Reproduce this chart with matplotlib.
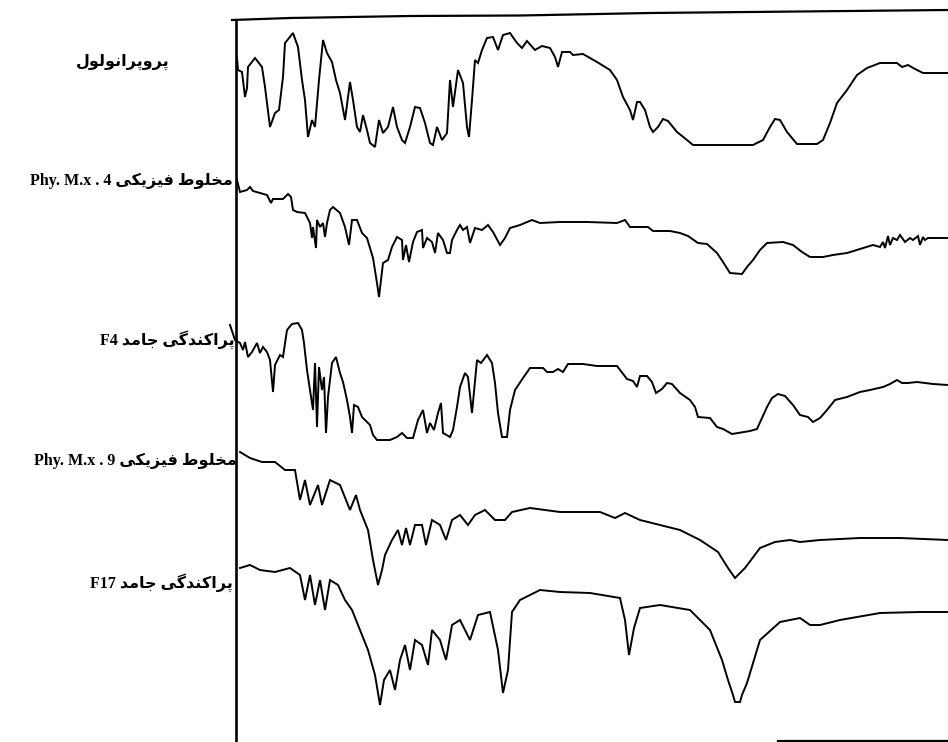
import matplotlib.pyplot as plt
import numpy as np

# Stacked IR spectra; x is position along the recorder trace, y is pen depth
# (larger = lower on the chart).

propranolol_x = [237, 238, 242, 245, 247, 248, 255, 262, 265, 270, 275, 279, 283, 285,
                 293, 298, 302, 305, 308, 312, 315, 319, 323, 327, 332, 336, 340, 345,
                 350, 353, 357, 360, 363, 367, 370, 375, 379, 383, 388, 393, 397, 402,
                 405, 410, 415, 420, 425, 430, 433, 437, 442, 447, 450, 453, 458, 463,
                 467, 469, 472, 475, 478, 482, 487, 493, 498, 503, 510, 517, 522, 527,
                 535, 542, 550, 555, 558, 562, 570, 573, 583, 597, 610, 617, 623, 630,
                 633, 637, 640, 645, 650, 653, 658, 663, 668, 677, 687, 693, 753, 763,
                 770, 775, 780, 787, 797, 817, 823, 830, 837, 847, 857, 867, 880, 897,
                 902, 908, 915, 923, 948]
propranolol_y = [58, 70, 72, 97, 88, 67, 58, 67, 87, 127, 113, 110, 77, 43,
                 33, 47, 80, 100, 137, 120, 127, 80, 40, 53, 62, 80, 93, 120,
                 82, 100, 127, 132, 115, 130, 143, 147, 120, 133, 127, 107, 127, 140,
                 143, 127, 107, 108, 123, 143, 145, 127, 140, 133, 80, 107, 70, 83,
                 127, 137, 100, 60, 63, 50, 38, 37, 50, 35, 33, 43, 48, 41,
                 50, 46, 48, 57, 67, 52, 52, 55, 54, 62, 70, 80, 97, 110,
                 120, 102, 102, 110, 127, 132, 127, 119, 121, 132, 140, 145, 145, 140,
                 127, 119, 120, 132, 144, 144, 140, 123, 103, 90, 75, 68, 63, 63,
                 67, 65, 69, 73, 73]

phymx4_x = [237, 240, 247, 250, 253, 260, 267, 271, 273, 283, 288, 291, 293, 297,
            305, 310, 312, 313, 316, 317, 320, 323, 325, 327, 330, 333, 340, 345,
            349, 352, 357, 362, 367, 370, 373, 377, 379, 381, 383, 388, 392, 397,
            402, 403, 406, 409, 413, 417, 422, 423, 427, 432, 435, 438, 443, 447,
            450, 452, 457, 460, 463, 467, 470, 475, 482, 488, 493, 500, 505, 510,
            520, 532, 540, 560, 587, 617, 625, 630, 648, 653, 670, 680, 688, 698,
            707, 717, 723, 730, 742, 747, 753, 760, 767, 783, 793, 802, 810, 823,
            833, 847, 860, 873, 880, 883, 885, 888, 890, 893, 897, 900, 905, 910,
            913, 918, 920, 923, 925, 928, 933, 948]
phymx4_y = [180, 192, 190, 187, 191, 193, 195, 203, 199, 199, 194, 197, 210, 212,
            213, 223, 238, 227, 248, 220, 227, 223, 237, 223, 210, 207, 213, 227,
            245, 220, 220, 233, 238, 248, 258, 283, 297, 280, 263, 260, 247, 237,
            240, 260, 245, 262, 242, 232, 230, 248, 238, 242, 253, 233, 240, 253,
            253, 240, 230, 225, 230, 227, 243, 228, 230, 225, 232, 245, 238, 228,
            225, 220, 223, 222, 222, 223, 220, 227, 227, 231, 231, 233, 236, 243,
            244, 253, 262, 273, 274, 267, 260, 250, 243, 242, 245, 252, 257, 257,
            255, 253, 249, 245, 247, 242, 248, 236, 245, 238, 240, 235, 242, 238,
            240, 236, 245, 237, 240, 238, 238, 238]

f4_x = [230, 235, 240, 243, 245, 248, 252, 257, 260, 263, 267, 270, 273, 275,
        280, 283, 287, 292, 298, 302, 304, 307, 310, 313, 315, 317, 319, 322,
        324, 326, 328, 332, 336, 340, 343, 347, 350, 352, 354, 358, 362, 365,
        370, 373, 377, 390, 397, 402, 407, 413, 418, 423, 427, 430, 434, 438,
        441, 443, 450, 453, 457, 460, 465, 468, 472, 477, 481, 487, 492, 495,
        498, 502, 507, 510, 515, 523, 530, 543, 547, 553, 558, 563, 568, 583,
        597, 617, 627, 633, 637, 640, 647, 652, 656, 662, 667, 672, 680, 690,
        695, 698, 710, 717, 723, 732, 738, 750, 757, 762, 767, 772, 778, 785,
        793, 800, 808, 813, 820, 827, 835, 847, 860, 870, 883, 890, 897, 902,
        908, 917, 933, 948]
f4_y = [325, 340, 343, 350, 342, 357, 352, 343, 353, 347, 352, 360, 392, 365,
        355, 357, 330, 324, 323, 330, 343, 370, 390, 410, 363, 427, 367, 390,
        377, 433, 397, 363, 357, 373, 382, 400, 417, 433, 405, 407, 417, 420,
        425, 435, 440, 440, 437, 433, 438, 438, 420, 410, 433, 423, 430, 413,
        403, 433, 437, 430, 407, 387, 373, 377, 413, 360, 363, 355, 363, 383,
        413, 437, 437, 410, 390, 378, 368, 368, 372, 372, 369, 372, 364, 364,
        366, 366, 379, 381, 387, 376, 376, 382, 393, 389, 383, 384, 393, 400,
        407, 417, 418, 427, 429, 434, 433, 431, 429, 418, 407, 398, 394, 396,
        405, 415, 417, 422, 418, 410, 400, 397, 392, 390, 387, 384, 380, 383,
        383, 382, 384, 385]

phymx9_x = [240, 250, 262, 275, 285, 295, 300, 305, 310, 318, 322, 330, 340, 350,
            356, 360, 368, 373, 378, 382, 385, 392, 398, 402, 406, 410, 415, 422,
            426, 432, 440, 446, 452, 460, 468, 475, 485, 495, 505, 512, 530, 560,
            600, 615, 625, 640, 660, 680, 700, 718, 728, 735, 745, 760, 775, 790,
            800, 820, 860, 900, 948]
phymx9_y = [452, 458, 462, 462, 470, 470, 500, 480, 505, 485, 505, 480, 485, 510,
            495, 510, 530, 560, 585, 570, 555, 540, 530, 545, 528, 545, 525, 525,
            545, 520, 525, 540, 520, 515, 525, 515, 510, 520, 520, 512, 508, 512,
            512, 518, 513, 520, 525, 530, 540, 552, 568, 578, 568, 548, 542, 540,
            542, 540, 538, 538, 540]

f17_x = [240, 250, 260, 275, 290, 300, 305, 310, 315, 320, 325, 330, 338, 345,
         352, 360, 368, 375, 380, 384, 390, 395, 400, 405, 410, 415, 422, 428,
         432, 440, 446, 452, 460, 470, 478, 490, 498, 503, 508, 512, 520, 540,
         560, 590, 620, 625, 629, 634, 640, 660, 690, 710, 722, 728, 733, 735,
         740, 742, 747, 760, 780, 800, 810, 820, 840, 880, 920, 948]
f17_y = [568, 565, 570, 572, 568, 575, 600, 575, 605, 580, 610, 580, 585, 600,
         610, 630, 650, 675, 705, 680, 670, 690, 660, 645, 670, 640, 645, 665,
         630, 640, 660, 625, 620, 640, 615, 612, 650, 693, 670, 612, 600, 590,
         592, 593, 598, 620, 655, 628, 608, 605, 610, 630, 660, 680, 695, 702,
         702, 695, 683, 640, 622, 618, 625, 625, 620, 613, 612, 612]

# chart paper border drawn by the recorder
border_top_x = [232, 290, 410, 520, 650, 948]
border_top_y = [20, 18, 16, 15.5, 13, 10]

labels = [
    ("", "پروپرانولول"),
    ("Phy. M.x . 4", "مخلوط فیزیکی"),
    ("F4", "پراکندگی جامد"),
    ("Phy. M.x . 9", "مخلوط فیزیکی"),
    ("F17", "پراکندگی جامد"),
]
label_pos = [(170, 62), (233, 181), (235, 340), (237, 461), (233, 583)]

# contextual forms: isolated, final, initial, medial
FORMS = {
    "ا": "\uFE8D\uFE8E", "د": "\uFEA9\uFEAA", "ر": "\uFEAD\uFEAE",
    "ز": "\uFEAF\uFEB0", "و": "\uFEED\uFEEE",
    "ن": "\uFEE5\uFEE6\uFEE7\uFEE8", "ل": "\uFEDD\uFEDE\uFEDF\uFEE0",
    "م": "\uFEE1\uFEE2\uFEE3\uFEE4", "خ": "\uFEA5\uFEA6\uFEA7\uFEA8",
    "ط": "\uFEC1\uFEC2\uFEC3\uFEC4", "ف": "\uFED1\uFED2\uFED3\uFED4",
    "ج": "\uFE9D\uFE9E\uFE9F\uFEA0", "پ": "\uFB56\uFB57\uFB58\uFB59",
    "ک": "\uFB8E\uFB8F\uFB90\uFB91", "گ": "\uFB92\uFB93\uFB94\uFB95",
    "ی": "\uFBFC\uFBFD\uFBFE\uFBFF",
}


def shape(text):
    out = []
    for i, ch in enumerate(text):
        if ch not in FORMS:
            out.append(ch)
            continue
        prev = i > 0 and len(FORMS.get(text[i - 1], "")) == 4
        nxt = len(FORMS[ch]) == 4 and i + 1 < len(text) and text[i + 1] in FORMS
        idx = (3 if nxt else 1) if prev else (2 if nxt else 0)
        out.append(FORMS[ch][idx])
    return "".join(reversed(out))


fig = plt.figure(figsize=(9.48, 7.42), dpi=100)
ax = fig.add_axes([0, 0, 1, 1])
ax.set_xlim(0, 948)
ax.set_ylim(742, 0)
ax.axis("off")

lw = 1.4
for xs, ys in [(propranolol_x, propranolol_y), (phymx4_x, phymx4_y), (f4_x, f4_y),
               (phymx9_x, phymx9_y), (f17_x, f17_y)]:
    ax.plot(xs, ys, color="black", lw=lw, solid_joinstyle="miter")

ax.plot(border_top_x, border_top_y, color="black", lw=1.6)
ax.plot([236, 236], [20, 742], color="black", lw=1.9)
ax.plot([778, 948], [741, 741], color="black", lw=1.6)

for (latin, persian), (x, y) in zip(labels, label_pos):
    txt = (latin + " " if latin else "") + shape(persian)
    ax.text(x, y, txt, ha="right", va="center", fontsize=11.5, fontweight="bold",
            family=["Liberation Serif", "DejaVu Sans"])

fig.savefig("out.png", dpi=100)
